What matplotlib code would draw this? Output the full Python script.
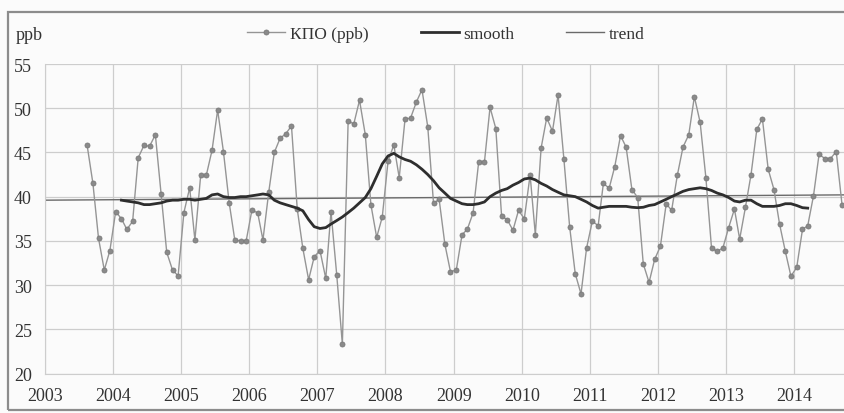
import matplotlib
matplotlib.use("Agg")
import matplotlib.pyplot as plt
import matplotlib.dates as mdates
from matplotlib.patches import Rectangle
import pandas as pd

plt.rcParams["font.family"] = ["Liberation Serif", "DejaVu Serif"]

# Monthly КПО concentrations, Aug 2003 - Sep 2014 (ppb)
kpo_start = "2003-08"
kpo = [
    45.8, 41.5, 35.3, 31.7, 33.9,                                          # 2003
    38.3, 37.5, 36.3, 37.2, 44.4, 45.8, 45.7, 47.0, 40.3, 33.7, 31.7, 31.05,  # 2004
    38.2, 41.0, 35.1, 42.4, 42.4, 45.25, 49.8, 45.1, 39.3, 35.1, 35.0, 35.0,  # 2005
    38.5, 38.15, 35.1, 40.5, 45.0, 46.6, 47.1, 48.0, 38.6, 34.15, 30.6, 33.2,  # 2006
    33.9, 30.75, 38.3, 31.1, 23.3, 48.6, 48.2, 50.9, 47.0, 39.1, 35.4, 37.7,   # 2007
    44.0, 45.85, 42.15, 48.75, 48.9, 50.7, 52.1, 47.9, 39.25, 39.7, 34.6, 31.5,  # 2008
    31.7, 35.7, 36.3, 38.15, 43.9, 43.9, 50.1, 47.7, 37.8, 37.4, 36.2, 38.45,  # 2009
    37.5, 42.45, 35.7, 45.5, 48.9, 47.4, 51.5, 44.3, 36.6, 31.3, 29.0, 34.2,   # 2010
    37.25, 36.7, 41.5, 40.95, 43.4, 46.9, 45.6, 40.8, 39.9, 32.4, 30.3, 32.9,  # 2011
    34.4, 39.2, 38.45, 42.45, 45.6, 47.0, 51.3, 48.4, 42.1, 34.2, 33.8, 34.2,  # 2012
    36.5, 38.6, 35.2, 38.8, 42.5, 47.6, 48.8, 43.1, 40.8, 36.9, 33.8, 31.0,   # 2013
    32.0, 36.3, 36.7, 40.1, 44.8, 44.3, 44.3, 45.1, 39.1,                     # 2014
]

# Smoothed series, Feb 2004 - Mar 2014 (ppb)
smooth_start = "2004-02"
smooth = [
    39.6, 39.5, 39.4, 39.3, 39.1, 39.1, 39.2, 39.3, 39.5, 39.6, 39.6,          # 2004
    39.7, 39.7, 39.6, 39.7, 39.8, 40.2, 40.3, 40.0, 39.9, 39.9, 40.0, 40.0,    # 2005
    40.1, 40.2, 40.3, 40.2, 39.6, 39.3, 39.1, 38.9, 38.7, 38.4, 37.4, 36.6,    # 2006
    36.4, 36.5, 36.9, 37.3, 37.7, 38.2, 38.7, 39.3, 39.9, 40.9, 42.3, 43.7,    # 2007
    44.6, 44.9, 44.5, 44.2, 44.0, 43.6, 43.1, 42.5, 41.8, 41.0, 40.4, 39.8,    # 2008
    39.5, 39.2, 39.1, 39.1, 39.2, 39.4, 40.0, 40.4, 40.7, 40.9, 41.3, 41.6,    # 2009
    42.0, 42.1, 41.9, 41.5, 41.2, 40.8, 40.5, 40.2, 40.1, 40.0, 39.7, 39.4,    # 2010
    39.0, 38.7, 38.8, 38.9, 38.9, 38.9, 38.9, 38.8, 38.75, 38.8, 39.0, 39.1,   # 2011
    39.4, 39.7, 40.0, 40.3, 40.6, 40.8, 40.9, 41.0, 40.9, 40.7, 40.4, 40.2,    # 2012
    39.9, 39.5, 39.4, 39.6, 39.6, 39.2, 38.9, 38.9, 38.9, 39.0, 39.2, 39.2,    # 2013
    39.0, 38.75, 38.7,                                                         # 2014
]

# Linear trend: dates and values at both ends
trend_dates = ["2003-01-01", "2014-10-01"]
trend_values = [39.6, 40.2]

years = list(range(2003, 2015))
y_ticks = [20, 25, 30, 35, 40, 45, 50, 55]


def mid_month(start, n):
    return pd.date_range(start, periods=n, freq="MS") + pd.Timedelta(days=14)


kpo_t = mid_month(kpo_start, len(kpo))
smooth_t = mid_month(smooth_start, len(smooth))
trend_t = pd.to_datetime(trend_dates)

W, H = 845, 414
fig = plt.figure(figsize=(W / 100, H / 100), dpi=100)
fig.patch.set_facecolor("#fbfbfb")

# chart frame
fig.patches.append(Rectangle((8 / W, 1 - 411 / H), 1.0, (411 - 13) / H,
                             transform=fig.transFigure, fill=False,
                             edgecolor="#8c8c8c", linewidth=1.6))

ax = fig.add_axes([45 / W, 1 - 374.5 / H, 1 - 45 / W, (374.5 - 65) / H])
ax.set_facecolor("#fbfbfb")

l1, = ax.plot(kpo_t, kpo, color="#959595", linewidth=1.0, marker="o",
              markersize=3.6, markerfacecolor="#8a8a8a",
              markeredgecolor="#7a7a7a", markeredgewidth=0.6,
              label="КПО (ppb)", zorder=3)
l2, = ax.plot(smooth_t, smooth, color="#2e2e2e", linewidth=2.0,
              label="smooth", zorder=4)
l3, = ax.plot(trend_t, trend_values, color="#6a6a6a", linewidth=1.0,
              label="trend", zorder=2)

ax.set_ylim(20, 55)
ax.set_yticks(y_ticks)
ax.set_xlim(pd.Timestamp("2003-01-01"), pd.Timestamp("2014-10-01"))
ax.set_xticks([pd.Timestamp(f"{y}-01-01") for y in years])
ax.xaxis.set_major_formatter(mdates.DateFormatter("%Y"))

ax.grid(True, color="#cdcdcd", linewidth=0.9)
ax.set_axisbelow(True)
for s in ax.spines.values():
    s.set_visible(False)
ax.spines["bottom"].set_visible(True)
ax.spines["bottom"].set_color("#cdcdcd")
ax.spines["left"].set_visible(True)
ax.spines["left"].set_color("#cdcdcd")

ax.tick_params(axis="both", length=0, labelsize=13, colors="#333333")
ax.tick_params(axis="x", pad=9.5)
for lab in ax.get_yticklabels():
    lab.set_horizontalalignment("left")
# left-aligned y labels start about 31 px left of the axes
ax.tick_params(axis="y", pad=22.3)

fig.text(16 / W, 1 - 36 / H, "ppb", fontsize=13, color="#333333",
         ha="left", va="center")

fig.legend(handles=[l1, l2, l3], loc="center",
           bbox_to_anchor=(446 / W, 1 - 35 / H), ncol=3, frameon=False,
           fontsize=12.5, handlelength=2.2, handletextpad=0.25,
           columnspacing=3.0, labelcolor="#333333")

fig.savefig("out.png", dpi=100, facecolor=fig.get_facecolor())
